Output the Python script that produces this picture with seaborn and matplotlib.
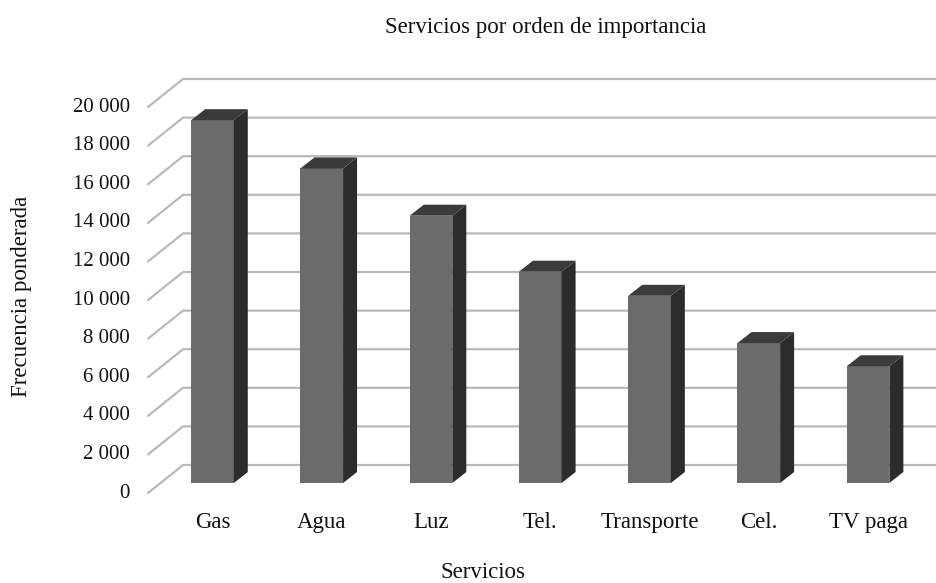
import matplotlib
matplotlib.use("Agg")
import matplotlib.pyplot as plt
import seaborn as sns
from matplotlib.patches import Polygon

sns.set_style("white")
plt.rcParams['font.family'] = ['Liberation Serif', 'DejaVu Serif']

# data
servicios = ['Gas', 'Agua', 'Luz', 'Tel.', 'Transporte', 'Cel.', 'TV paga']
frecuencia = [18800, 16300, 13850, 10950, 9700, 7250, 6050]
y_ticks = list(range(0, 20001, 2000))

front_color = '#6b6b6b'
side_color = '#2c2c2c'
top_color = '#3b3b3b'
grid_color = '#b9b9b9'
text_color = '#111111'

fig = plt.figure(figsize=(9.37, 5.83), dpi=100)
ax = fig.add_axes([0.1708, 0.1715, 0.8116, 0.6621])

sns.barplot(x=servicios, y=frecuencia, color=front_color, width=0.39,
            saturation=1, ax=ax, zorder=3, linewidth=0)
ax.set_xlim(-0.48, 6.48)
ax.set_ylim(0, 20000)
ax.axis('off')

# pixels per data unit, to fake the 3D depth
p0 = ax.transData.transform((0, 0))
p1 = ax.transData.transform((1, 1))
ux, uy = p1[0] - p0[0], p1[1] - p0[1]

def off(px, py):
    return px / ux, py / uy

fx, fy = off(-12, -10)   # front plane (where the labels sit)
bx, by = off(23, 18)     # back wall
dx, dy = off(14, 11)     # bar depth

xl, xr = ax.get_xlim()
for v in y_ticks:
    ax.plot([xl + fx, xl + bx, xr + bx + 1], [v + fy, v + by, v + by],
            color=grid_color, lw=1.6, clip_on=False, zorder=1)
    lx, ly = off(-18, 0)
    ax.text(xl + fx + lx, v + fy, f'{v:,}'.replace(',', ' '),
            ha='right', va='center', fontsize=15, color=text_color)

# side and top faces of each bar
for bar in ax.patches:
    x0 = bar.get_x()
    x1 = x0 + bar.get_width()
    h = bar.get_height()
    side = Polygon([(x1, 0), (x1, h), (x1 + dx, h + dy), (x1 + dx, dy)],
                   closed=True, facecolor=side_color, edgecolor='none',
                   zorder=3, clip_on=False)
    top = Polygon([(x0, h), (x1, h), (x1 + dx, h + dy), (x0 + dx, h + dy)],
                  closed=True, facecolor=top_color, edgecolor='none',
                  zorder=3, clip_on=False)
    ax.add_patch(side)
    ax.add_patch(top)

lx, ly = off(0, -39)
for i, name in enumerate(servicios):
    ax.text(i, ly, name, ha='center', va='center', fontsize=16.5, color=text_color)

fig.text(546 / 937, 1 - 27 / 583, 'Servicios por orden de importancia',
         ha='center', va='center', fontsize=16.5, color=text_color)
fig.text(483 / 937, 1 - 572 / 583, 'Servicios',
         ha='center', va='center', fontsize=16.5, color=text_color)
fig.text(22 / 937, 1 - 296 / 583, 'Frecuencia ponderada', rotation=90,
         ha='center', va='center', fontsize=16.5, color=text_color)

fig.savefig('out.png', dpi=100, facecolor='white')
